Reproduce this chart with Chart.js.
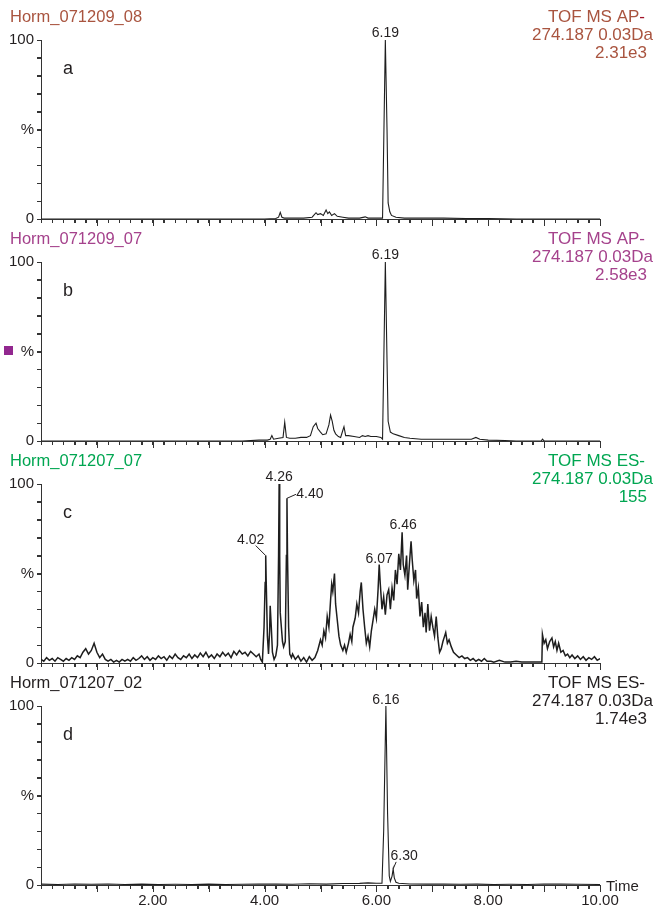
<!DOCTYPE html>
<html lang="en">
<head>
<meta charset="UTF-8" />
<title>Chromatograms 274.187</title>
<script src="https://cdn.jsdelivr.net/npm/chart.js@4"></script>
<style>
  html, body { margin: 0; padding: 0; background: #fff; }
  #wrap { position: relative; width: 654px; height: 910px; overflow: hidden; }
  canvas { position: absolute; left: 0; }
</style>
</head>
<body>
<div id="wrap">
  <canvas id="panelA" width="654" height="240" style="top:0px"></canvas>
  <canvas id="panelB" width="654" height="240" style="top:222px"></canvas>
  <canvas id="panelC" width="654" height="240" style="top:444px"></canvas>
  <canvas id="panelD" width="654" height="244" style="top:666px"></canvas>
</div>
<script>
// ---- panel headers ----
const panelTitles = ["Horm_071209_08", "Horm_071209_07", "Horm_071207_07", "Horm_071207_02"];
const panelModes = ["TOF MS AP", "TOF MS AP", "TOF MS ES", "TOF MS ES"];
const panelMasses = ["274.187 0.03Da", "274.187 0.03Da", "274.187 0.03Da", "274.187 0.03Da"];
const panelScales = ["2.31e3", "2.58e3", "155", "1.74e3"];
const panelLetters = ["a", "b", "c", "d"];
const xLabelValues = [2, 4, 6, 8, 10];

// ---- traces (time in min, intensity in %) ----
const timesA = [0, 0.5, 1, 1.5, 2, 2.5, 3, 3.5, 4, 4.2, 4.25, 4.28, 4.31, 4.35, 4.5, 4.7, 4.85, 4.92, 4.95, 5.0,
  5.05, 5.1, 5.13, 5.16, 5.2, 5.25, 5.3, 5.4, 5.5, 5.7, 5.8, 5.85, 6.0, 6.11, 6.16, 6.19, 6.21, 6.24, 6.27, 6.35,
  6.5, 6.8, 7.2, 7.6, 8.0, 8.5, 9, 10];
const intensA = [0, 0, 0, 0, 0, 0, 0, 0, 0, 0.3, 1, 3.7, 1, 0.5, 0.5, 0.5, 1, 3.5, 2.5, 3,
  2, 5, 3, 4, 2, 3, 1.5, 1, 0.5, 0.5, 1.2, 0.5, 0.5, 0.5, 100, 50, 9, 4, 2, 1,
  0.5, 0.5, 0.5, 0.3, 0.3, 0, 0, 0];

const timesB = [0, 3.6, 3.9, 4.05, 4.1, 4.13, 4.16, 4.25, 4.33, 4.36, 4.39, 4.45, 4.55, 4.65, 4.75, 4.82, 4.87, 4.92, 4.95, 5.0,
  5.04, 5.1, 5.15, 5.18, 5.21, 5.24, 5.27, 5.32, 5.36, 5.4, 5.42, 5.45, 5.5, 5.6, 5.7, 5.75, 5.8, 5.85, 5.9, 6.0,
  6.08, 6.11, 6.16, 6.19, 6.21, 6.25, 6.3, 6.4, 6.5, 6.6, 6.8, 7.0, 7.4, 7.7, 7.78, 7.85, 8.0, 8.3, 8.5, 8.95,
  8.97, 9.0, 10];
const intensB = [0, 0, 0.5, 0.5, 1, 3, 1, 1.5, 2, 10.5, 2, 1.5, 1.5, 2, 2, 3, 8, 10, 7, 5,
  3.5, 4, 9, 14.5, 11, 6, 4, 2.5, 2, 6, 8, 3, 3, 2.5, 2, 3, 2.5, 3, 2.5, 2.5,
  2, 1, 100, 45, 11, 5, 4, 3, 2, 1.5, 1, 1, 1, 1, 2, 1, 0.5, 0.3, 0, 0,
  1, 0, 0];

const timesC = [
  0.00, 0.05, 0.10, 0.15, 0.20, 0.25, 0.30, 0.35, 0.40, 0.45,
  0.50, 0.55, 0.60, 0.65, 0.70, 0.75, 0.80, 0.85, 0.90, 0.95,
  1.00, 1.05, 1.10, 1.15, 1.20, 1.25, 1.30, 1.35, 1.40, 1.45,
  1.50, 1.55, 1.60, 1.65, 1.70, 1.75, 1.80, 1.85, 1.90, 1.95,
  2.00, 2.05, 2.10, 2.15, 2.20, 2.25, 2.30, 2.35, 2.40, 2.45,
  2.50, 2.55, 2.60, 2.65, 2.70, 2.75, 2.80, 2.85, 2.90, 2.95,
  3.00, 3.05, 3.10, 3.15, 3.20, 3.25, 3.30, 3.35, 3.40, 3.45,
  3.50, 3.55, 3.60, 3.65, 3.70, 3.75, 3.80, 3.85, 3.90, 3.93,
  3.96, 3.99, 4.01, 4.02, 4.03, 4.05, 4.07, 4.09, 4.10, 4.12,
  4.14, 4.17, 4.20, 4.23, 4.25, 4.26, 4.27, 4.28, 4.30, 4.32,
  4.34, 4.37, 4.39, 4.40, 4.41, 4.43, 4.45, 4.48, 4.50, 4.55,
  4.60, 4.65, 4.70, 4.75, 4.80, 4.85, 4.90, 4.95, 5.00, 5.03,
  5.06, 5.09, 5.12, 5.15, 5.18, 5.20, 5.22, 5.25, 5.27, 5.30,
  5.33, 5.36, 5.40, 5.43, 5.46, 5.50, 5.53, 5.56, 5.58, 5.62,
  5.65, 5.68, 5.71, 5.73, 5.76, 5.79, 5.82, 5.85, 5.88, 5.91,
  5.94, 5.97, 6.00, 6.03, 6.05, 6.07, 6.10, 6.13, 6.16, 6.19,
  6.22, 6.25, 6.28, 6.31, 6.34, 6.37, 6.40, 6.43, 6.46, 6.48,
  6.51, 6.54, 6.56, 6.59, 6.62, 6.64, 6.67, 6.70, 6.72, 6.75,
  6.78, 6.81, 6.84, 6.87, 6.89, 6.92, 6.95, 6.98, 7.01, 7.04,
  7.07, 7.10, 7.13, 7.16, 7.19, 7.22, 7.24, 7.27, 7.30, 7.34,
  7.38, 7.43, 7.48, 7.53, 7.58, 7.63, 7.68, 7.73, 7.78, 7.83,
  7.88, 7.93, 7.98, 8.05, 8.10, 8.20, 8.30, 8.40, 8.50, 8.60,
  8.70, 8.80, 8.90, 8.96, 8.97, 9.00, 9.03, 9.06, 9.10, 9.14,
  9.17, 9.20, 9.23, 9.26, 9.30, 9.34, 9.38, 9.42, 9.46, 9.50,
  9.55, 9.60, 9.65, 9.70, 9.75, 9.80, 9.85, 9.90, 9.95, 10.00];
const intensC = [
  2, 1, 3, 1.5, 2.5, 1, 3, 2, 1, 2.5,
  1.5, 3, 2, 4, 3, 6, 8, 5, 7, 11,
  6, 3, 5, 2, 1, 2, 0.5, 1.5, 0.5, 2,
  1, 2, 1, 3, 1.5, 2.5, 4, 2, 3.5, 1.5,
  3, 2, 4, 2.5, 3.5, 1.5, 4, 2.5, 5, 3,
  2, 4, 3, 5, 2.5, 4.5, 3, 5.5, 3.5, 6,
  3, 4.5, 2.5, 5, 3.5, 6, 4, 5.5, 3, 6.5,
  4.5, 7, 5, 6, 4, 6.5, 5, 3.5, 5, 2,
  0.5, 20, 45, 60, 44, 15, 5, 18, 32, 20,
  6, 2, 4, 10, 60, 100, 60, 28, 20, 12,
  9, 12, 60, 92, 60, 20, 5, 3, 5, 2,
  4, 1, 3, 0.5, 3.5, 1.5, 3, 7, 13, 10,
  18, 14, 26, 20, 35, 44, 40, 50, 33, 24,
  15, 10, 7, 10, 6, 11, 16, 12, 20, 25,
  33, 28, 40, 45, 30, 20, 11, 15, 9, 18,
  24, 30, 25, 41, 55, 44, 30, 37, 27, 38,
  41, 30, 42, 35, 52, 44, 61, 52, 73, 55,
  49, 60, 41, 55, 68, 58, 46, 52, 36, 42,
  26, 34, 20, 28, 17, 33, 18, 26, 20, 15,
  26, 14, 6, 8, 12, 15, 17, 11, 13, 9,
  6, 4.5, 3, 4, 2.5, 3, 1.5, 2.5, 1, 2,
  1, 2.5, 1, 1, 0.5, 1.5, 0.5, 0.5, 1, 0.5,
  0.5, 0.5, 0.5, 0.5, 16, 11, 13, 8, 12, 14,
  9, 12, 7, 11, 6, 7, 4, 5, 3, 4.5,
  2.5, 4, 2, 3.5, 1.5, 3, 2, 3.5, 1.5, 2.5];

const timesD = [0, 0.3, 0.6, 0.9, 1.2, 1.5, 1.8, 2.1, 2.4, 2.7, 3.0, 3.3, 3.6, 3.9, 4.2, 4.5, 4.8, 5.1, 5.4, 5.7,
  5.85, 6.0, 6.1, 6.13, 6.17, 6.2, 6.23, 6.25, 6.28, 6.3, 6.32, 6.35, 6.4, 6.6, 6.9, 7.2, 7.5, 7.8, 8.1, 8.4,
  8.7, 9.0, 9.3, 9.6, 10];
const intensD = [0.5, 0.3, 0.6, 0.4, 0.6, 0.3, 0.5, 0.3, 0.4, 0.3, 0.5, 0.3, 0.4, 0.5, 0.6, 0.4, 0.7, 0.5, 0.8, 0.9,
  1.2, 1, 1, 30, 100, 40, 5, 2, 5, 9, 4, 1.5, 1, 0.6, 0.5, 0.5, 0.4, 0.5, 0.3, 0.4,
  0.3, 0.6, 0.5, 0.4, 0.3];

// ---- labelled peaks ----
const peakTimesA = [6.16], peakLabelsA = ["6.19"];
const peakTimesB = [6.16], peakLabelsB = ["6.19"];
const peakTimesC = [4.02, 4.26, 4.40, 6.05, 6.46], peakLabelsC = ["4.02", "4.26", "4.40", "6.07", "6.46"];
const peakTimesD = [6.17, 6.30], peakLabelsD = ["6.16", "6.30"];

// label placement relative to the peak: [dx, dy, leaderX, leaderY] (leader null = none)
const labelPlacement = [
  [[0, -3, null, null]],
  [[0, -3, null, null]],
  [[-15, -12, -10, -10], [0, -3, null, null], [23, 0, 9, -4], [0, -2, null, null], [1, -3, null, null]],
  [[0, -2, null, null], [11, -9, 3, -7]]
];

const fontFamily = '"Liberation Sans", Arial, sans-serif';
const panelColors = ["#a9543f", "#a5428c", "#00a651", "#231f20"];
const dashColors = ["#a3142a", "#a5428c", "#00a651", "#231f20"];
const traceWidths = [1.1, 1.1, 1.5, 1.1];
const axisColor = "#333333";
const textColor = "#231f20";

Chart.defaults.font.family = fontFamily;

const panelText = {
  id: "panelText",
  afterDraw(chart, args, opts) {
    const ctx = chart.ctx;
    const xs = chart.scales.x, ys = chart.scales.y;
    const area = chart.chartArea;
    const i = opts.index;
    ctx.save();

    // axis ticks: every 0.2 min (longer on whole minutes), every 10 %
    ctx.strokeStyle = axisColor;
    ctx.lineWidth = 1;
    ctx.beginPath();
    for (let k = 1; k <= 50; k++) {
      const px = Math.round(xs.getPixelForValue(k / 5)) + 0.5;
      ctx.moveTo(px, area.bottom);
      ctx.lineTo(px, area.bottom + (k % 5 === 0 ? 7 : 4));
    }
    for (let v = 0; v <= 100; v += 10) {
      const py = Math.round(ys.getPixelForValue(v)) + 0.5;
      ctx.moveTo(area.left - 4, py);
      ctx.lineTo(area.left, py);
    }
    ctx.stroke();

    // header
    ctx.textBaseline = "alphabetic";
    ctx.font = "16.5px " + fontFamily;
    ctx.fillStyle = panelColors[i];
    ctx.textAlign = "left";
    ctx.fillText(panelTitles[i], 10, 22);

    ctx.font = "17px " + fontFamily;
    ctx.textAlign = "right";
    const dw = ctx.measureText("-").width;
    ctx.fillText(panelModes[i], 645 - dw, 22);
    ctx.fillStyle = dashColors[i];
    ctx.fillText("-", 645, 22);
    ctx.fillStyle = panelColors[i];
    ctx.fillText(panelMasses[i], 653, 40);
    ctx.fillText(panelScales[i], 647, 58);

    // panel letter
    ctx.fillStyle = textColor;
    ctx.font = "18px " + fontFamily;
    ctx.textAlign = "left";
    ctx.fillText(panelLetters[i], 63, 74);

    // peak labels
    const ds = chart.data.datasets[0].data;
    ctx.font = "14px " + fontFamily;
    ctx.textAlign = "center";
    ctx.strokeStyle = textColor;
    opts.peakTimes.forEach((pt, k) => {
      const pnt = ds.find(d => d.x === pt);
      const px = xs.getPixelForValue(pnt.x), py = ys.getPixelForValue(pnt.y);
      const [dx, dy, lx, ly] = labelPlacement[i][k];
      ctx.fillText(opts.peakLabels[k], px + dx, py + dy);
      if (lx !== null) {
        ctx.beginPath();
        ctx.moveTo(px, py);
        ctx.lineTo(px + lx, py + ly);
        ctx.stroke();
      }
    });

    if (i === 1) {
      ctx.fillStyle = "#92278f";
      ctx.fillRect(4, 124, 9, 9);
    }
    if (i === 3) {
      ctx.fillStyle = textColor;
      ctx.font = "15px " + fontFamily;
      ctx.textAlign = "left";
      ctx.fillText("Time", 606, area.bottom + 6);
    }
    ctx.restore();
  }
};

function makePanel(index, canvasId, times, intens, peakTimes, peakLabels, xHeight) {
  const ctx = document.getElementById(canvasId).getContext("2d");
  return new Chart(ctx, {
    type: "line",
    data: {
      datasets: [{
        data: times.map((t, k) => ({ x: t, y: intens[k] })),
        borderColor: "#1e1e1e",
        borderWidth: traceWidths[index],
        pointRadius: 0,
        tension: 0,
        fill: false
      }]
    },
    options: {
      responsive: false,
      animation: false,
      devicePixelRatio: 1,
      layout: { padding: { top: 40, right: 54, left: 0, bottom: 0 } },
      plugins: {
        legend: { display: false },
        tooltip: { enabled: false },
        panelText: { index: index, peakTimes: peakTimes, peakLabels: peakLabels }
      },
      scales: {
        x: {
          type: "linear",
          min: 0,
          max: 10,
          border: { display: true, color: axisColor, width: 1 },
          grid: { drawOnChartArea: false, drawTicks: true, tickLength: 4, color: axisColor },
          ticks: {
            stepSize: 0.2,
            autoSkip: false,
            maxRotation: 0,
            padding: 3,
            color: textColor,
            font: { size: 15 },
            callback: function (v) {
              if (index !== 3) return "";
              const r = Math.round(v);
              return (Math.abs(v - r) < 1e-6 && xLabelValues.includes(r)) ? r.toFixed(2) : "";
            }
          },
          afterFit: function (scale) { scale.height = xHeight; }
        },
        y: {
          min: 0,
          max: 100,
          border: { display: true, color: axisColor, width: 1 },
          grid: { drawOnChartArea: false, drawTicks: true, tickLength: 4, color: axisColor },
          ticks: {
            stepSize: 10,
            autoSkip: false,
            padding: 3,
            color: textColor,
            font: { size: 15 },
            callback: function (v) {
              if (v === 100) return "100";
              if (v === 50) return "%";
              if (v === 0) return "0";
              return "";
            }
          },
          afterFit: function (scale) { scale.width = 41; }
        }
      }
    },
    plugins: [panelText]
  });
}

makePanel(0, "panelA", timesA, intensA, peakTimesA, peakLabelsA, 21);
makePanel(1, "panelB", timesB, intensB, peakTimesB, peakLabelsB, 21);
makePanel(2, "panelC", timesC, intensC, peakTimesC, peakLabelsC, 21);
makePanel(3, "panelD", timesD, intensD, peakTimesD, peakLabelsD, 25);
</script>
</body>
</html>
